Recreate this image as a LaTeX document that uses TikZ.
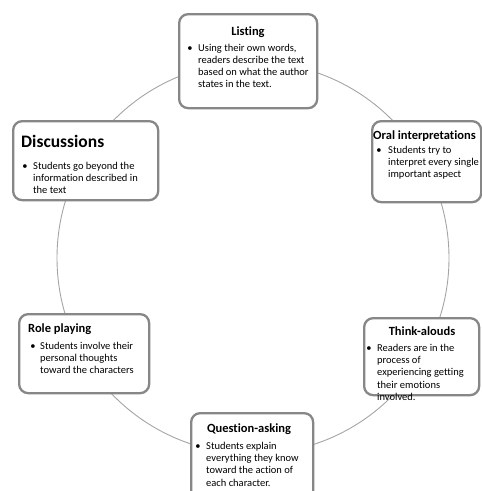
\documentclass[tikz,border=0pt]{standalone}
\usepackage{fontspec}
\setmainfont[Ligatures={NoCommon}]{Carlito}
\definecolor{boxgray}{RGB}{135,135,135}
\definecolor{circgray}{RGB}{165,165,165}
\newcommand{\blines}[1]{\parbox[t]{200pt}{\raggedright\fontsize{10.5}{12.2}\selectfont #1}}
\begin{document}
\begin{tikzpicture}[x=1pt,y=-1pt,
  box/.style={draw=boxgray, line width=2.3pt, rounded corners=9pt, fill=white, inner sep=0pt, anchor=north west},
  ttl/.style={font=\bfseries\fontsize{12.5}{14}\selectfont, inner sep=0pt, anchor=base},
  ttlw/.style={ttl, anchor=base west},
  bigttl/.style={font=\bfseries\fontsize{17.5}{20}\selectfont, inner sep=0pt, anchor=base west},
  bul/.style={font=\fontsize{10.5}{12}\selectfont, inner sep=0pt, anchor=base},
  txt/.style={inner sep=0pt, anchor=base west}
]
\clip (0,0) rectangle (482,491);
\fill[white] (0,0) rectangle (482,491);
\node[draw=circgray, line width=0.9pt, circle, minimum size=392pt, inner sep=0pt] (ring) at (253,258) {};

% Listing
\node[box, minimum width=138pt, minimum height=94pt] (listbox) at (178,13) {};
\node[ttl] (listttl) at (248,35) {Listing};
\node[bul] (listbul) at (190,51) {\textbullet};
\node[txt] (listtxt) at (198,51) {\blines{Using their own words,\\readers describe the text\\based on what the author\\states in the text.}};

% Discussions
\node[box, minimum width=145pt, minimum height=79pt] (discbox) at (12,120) {};
\node[bigttl] (discttl) at (21,147) {Discussions};
\node[bul] (discbul) at (25,169.5) {\textbullet};
\node[txt] (disctxt) at (33,169.5) {\blines{Students go beyond the\\information described in\\the text}};

% Oral interpretations
\node[box, minimum width=109pt, minimum height=81pt] (oralbox) at (371,120) {};
\node[ttlw] (oralttl) at (373,139) {Oral interpretations};
\node[bul] (oralbul) at (379,153.5) {\textbullet};
\node[txt] (oraltxt) at (388,153.5) {\blines{Students try to\\interpret every single\\important aspect}};

% Role playing
\node[box, minimum width=130pt, minimum height=79pt] (rolebox) at (18,313) {};
\node[ttlw] (rolettl) at (28,332.5) {Role playing};
\node[bul] (rolebul) at (33,349.5) {\textbullet};
\node[txt] (roletxt) at (40,349.5) {\blines{Students involve their\\personal thoughts\\toward the characters}};

% Think-alouds
\node[box, minimum width=115pt, minimum height=77pt] (thinkbox) at (363,317) {};
\node[ttl] (thinkttl) at (422,335.5) {Think-alouds};
\node[bul] (thinkbul) at (369,351.5) {\textbullet};
\node[txt] (thinktxt) at (377,351.5) {\blines{Readers are in the\\process of\\experiencing getting\\their emotions\\involved.}};

% Question-asking
\node[box, minimum width=122pt, minimum height=90pt] (qabox) at (190,412) {};
\node[ttl] (qattl) at (249,432.5) {Question-asking};
\node[bul] (qabul) at (198,449.5) {\textbullet};
\node[txt] (qatxt) at (206,449.5) {\blines{Students explain\\everything they know\\toward the action of\\each character.}};
\end{tikzpicture}
\end{document}
